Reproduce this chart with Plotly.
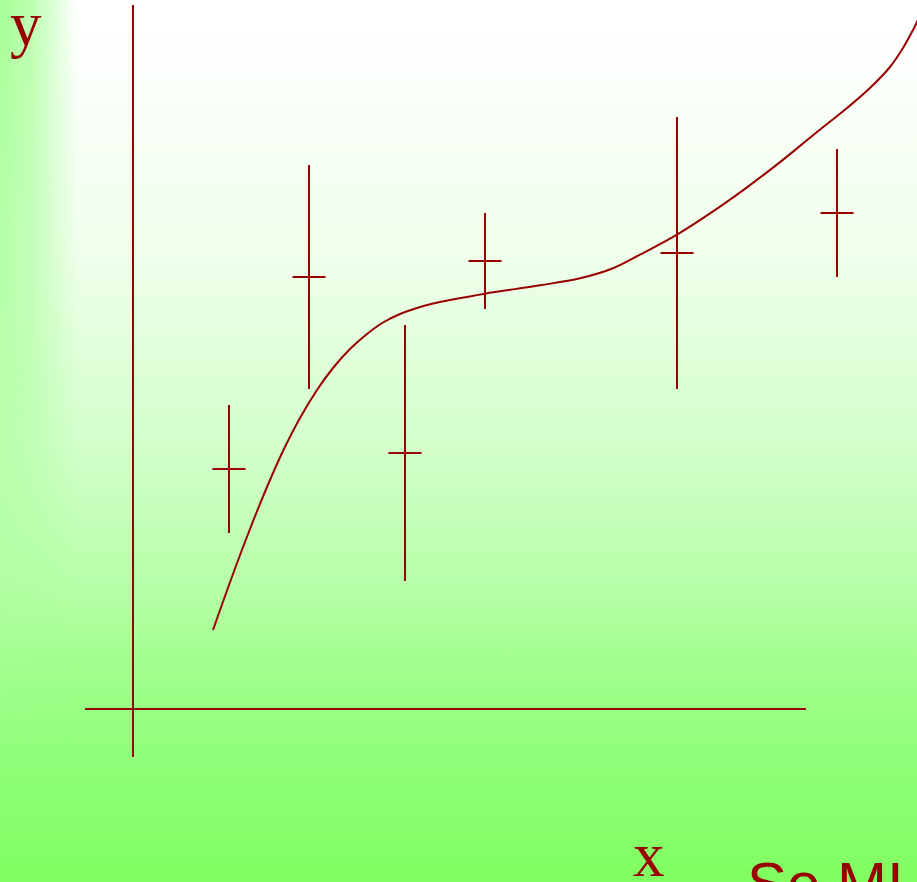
import base64
import plotly.graph_objects as go

# ---- data (units: 1 unit = 160 px in the reference) ----
point_x = [0.6, 1.1, 1.7, 2.2, 3.4, 4.4]
point_y = [1.5, 2.7, 1.6, 2.8, 2.85, 3.1]
point_err = [0.4, 0.7, 0.8, 0.3, 0.85, 0.4]

curve_x = [0.5, 0.625, 0.73125, 0.8375, 0.9375, 1.04375, 1.15, 1.25, 1.35625, 1.4625,
           1.5625, 1.66875, 1.775, 1.875, 1.98125, 2.2, 2.544, 2.794, 3.0, 3.169,
           3.4, 3.669, 3.8375, 4.044, 4.25, 4.4625, 4.606, 4.731, 4.8125, 4.875,
           4.9, 4.925]
curve_y = [0.49375, 0.84375, 1.125, 1.3875, 1.6125, 1.81875, 1.99375, 2.13125, 2.25, 2.34375,
           2.4156, 2.46875, 2.50625, 2.5344, 2.55625, 2.596, 2.648, 2.692, 2.755, 2.84,
           2.965, 3.14, 3.26, 3.418, 3.586, 3.756, 3.881, 4.0125, 4.131, 4.244,
           4.294, 4.369]

axis_v_x = [0, 0]
axis_v_y = [-0.3, 4.4]
axis_h_x = [-0.3, 4.206]
axis_h_y = [0, 0]

x_range = [-0.83125, 4.9]
y_range = [-1.08125, 4.43125]

label_y = "y"
label_x = "x"
footer_text = "Se MI"

RED = "#990000"

svg = '''<svg xmlns="http://www.w3.org/2000/svg" width="917" height="882" viewBox="0 0 917 882" preserveAspectRatio="none">
<defs>
<linearGradient id="v" x1="0" y1="0" x2="0" y2="1">
<stop offset="0" stop-color="#ffffff"/>
<stop offset="0.06" stop-color="#fdfffd"/>
<stop offset="0.28" stop-color="#f0ffec"/>
<stop offset="0.36" stop-color="#e6ffe1"/>
<stop offset="0.51" stop-color="#d2ffca"/>
<stop offset="0.68" stop-color="#b4ffa4"/>
<stop offset="0.75" stop-color="#a2ff8e"/>
<stop offset="0.87" stop-color="#8eff78"/>
<stop offset="1" stop-color="#80ff60"/>
</linearGradient>
<linearGradient id="h" gradientUnits="userSpaceOnUse" x1="0" y1="0" x2="78" y2="0">
<stop offset="0" stop-color="#a6ff96" stop-opacity="1"/>
<stop offset="0.4" stop-color="#a6ff96" stop-opacity="0.75"/>
<stop offset="1" stop-color="#a6ff96" stop-opacity="0"/>
</linearGradient>
<linearGradient id="mg" gradientUnits="userSpaceOnUse" x1="0" y1="0" x2="0" y2="760">
<stop offset="0" stop-color="#ffffff"/>
<stop offset="0.5" stop-color="#b0b0b0"/>
<stop offset="1" stop-color="#000000"/>
</linearGradient>
<mask id="m" maskUnits="userSpaceOnUse" x="0" y="0" width="917" height="882">
<rect width="917" height="882" fill="url(#mg)"/>
</mask>
</defs>
<rect width="917" height="882" fill="url(#v)"/>
<rect width="78" height="882" fill="url(#h)" mask="url(#m)"/>
</svg>'''
bg_src = "data:image/svg+xml;base64," + base64.b64encode(svg.encode()).decode()

fig = go.Figure()

fig.add_trace(go.Scatter(x=axis_v_x, y=axis_v_y, mode="lines",
                         line=dict(color=RED, width=2), hoverinfo="skip"))
fig.add_trace(go.Scatter(x=axis_h_x, y=axis_h_y, mode="lines",
                         line=dict(color=RED, width=2), hoverinfo="skip"))
fig.add_trace(go.Scatter(x=curve_x, y=curve_y, mode="lines",
                         line=dict(color=RED, width=2, shape="spline", smoothing=1.0),
                         hoverinfo="skip"))
fig.add_trace(go.Scatter(
    x=point_x, y=point_y, mode="markers",
    marker=dict(symbol="line-ew", size=23.6, color=RED, line=dict(color=RED, width=2)),
    error_y=dict(type="data", array=point_err, visible=True, color=RED,
                 thickness=2, width=0),
))

W, H = 917, 882
fig.add_annotation(text=label_y, xref="paper", yref="paper",
                   x=8 / W, y=1 - (-13) / H, xanchor="left", yanchor="top",
                   showarrow=False,
                   font=dict(family="Liberation Serif", size=63, color=RED))
fig.add_annotation(text=label_x, xref="paper", yref="paper",
                   x=631 / W, y=1 - 818 / H, xanchor="left", yanchor="top",
                   showarrow=False,
                   font=dict(family="Liberation Serif", size=63, color=RED))
fig.add_annotation(text=footer_text, xref="paper", yref="paper",
                   x=745 / W, y=1 - 848 / H, xanchor="left", yanchor="top",
                   showarrow=False,
                   font=dict(family="Liberation Sans", size=60, color=RED))

fig.update_layout(
    width=W, height=H,
    margin=dict(l=0, r=0, t=0, b=0),
    paper_bgcolor="rgba(0,0,0,0)",
    plot_bgcolor="rgba(0,0,0,0)",
    showlegend=False,
    xaxis=dict(range=x_range, visible=False, fixedrange=True),
    yaxis=dict(range=y_range, visible=False, fixedrange=True),
    images=[dict(source=bg_src, xref="paper", yref="paper", x=0, y=1,
                 sizex=1, sizey=1, sizing="stretch", layer="below",
                 xanchor="left", yanchor="top")],
)

fig.write_html("out.html")
